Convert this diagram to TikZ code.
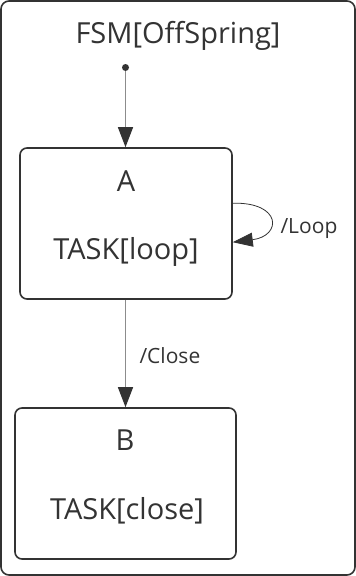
\documentclass[tikz,border=0pt]{standalone}
\usepackage{fontspec}
\setmainfont{Open Sans}
\usetikzlibrary{positioning, arrows.meta, calc}

\begin{document}
\begin{tikzpicture}[
    x=1pt, y=-1pt,
    font=\fontsize{29}{34}\selectfont,
    text=black!80,
    frame/.style={
        draw=black!80,
        line width=1.6pt,
        rounded corners=8pt
    },
    state/.style={
        draw=black!80,
        line width=1.6pt,
        fill=white,
        rounded corners=7pt,
        inner sep=0pt
    },
    statetext/.style={
        font=\fontsize{29}{34}\selectfont,
        text=black!80,
        anchor=base
    },
    transition/.style={
        -{Triangle[length=20pt, width=15pt, color=black!80]},
        draw=black!45,
        line width=1.3pt
    },
    loopline/.style={
        -{Triangle[length=20pt, width=14pt]},
        draw=black!80,
        line width=0.8pt
    },
    edgelabel/.style={
        font=\fontsize{21}{25}\selectfont,
        text=black!80,
        anchor=base west
    }
]

% --- Bounding box and outer frame -----------------------------------------
\useasboundingbox (0,0) rectangle (356,576);
\draw[frame] (1,1) rectangle (355,575);

% --- Title ----------------------------------------------------------------
\node[statetext] (title) at (178,43) {FSM[OffSpring]};

% --- Initial pseudo state -------------------------------------------------
\node[circle, fill=black!80, inner sep=0pt, minimum size=7pt] (init) at (125.5,67.5) {};

% --- State A --------------------------------------------------------------
\node[state, minimum width=212pt, minimum height=151pt] (stA) at (126,223.5) {};
\node[statetext] (nameA) at (126,191) {A};
\node[statetext] (taskA) at (126,259) {TASK[loop]};

% --- State B --------------------------------------------------------------
\node[state, minimum width=221pt, minimum height=151pt] (stB) at (125.5,483.5) {};
\node[statetext] (nameB) at (125,450) {B};
\node[statetext] (taskB) at (127,519) {TASK[close]};

% --- Transitions ----------------------------------------------------------
\draw[transition] (init) -- (init |- stA.north);

\draw[transition] (stA.south -| init) -- (init |- stB.north);
\node[edgelabel] (closelabel) at (136,363) {/Close};

\draw[loopline]
    ($(stA.north east)+(0,56)$) .. controls (282,202) and (282,236) ..
    ($(stA.north east)+(0,95)$);
\node[edgelabel] (looplabel) at (277,233) {/Loop};

\end{tikzpicture}
\end{document}
